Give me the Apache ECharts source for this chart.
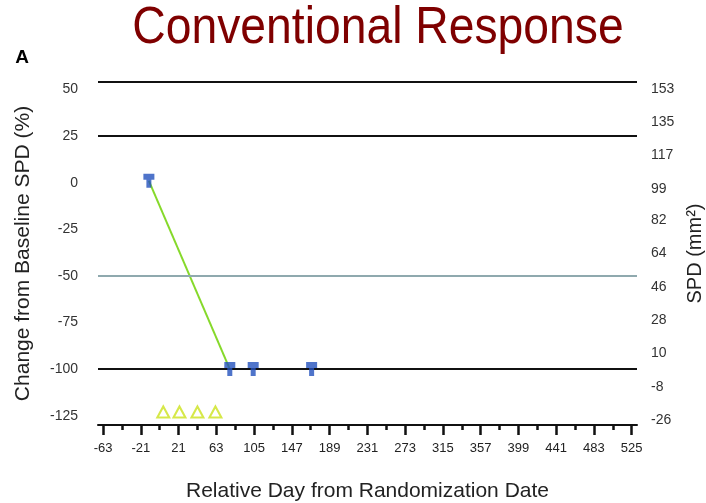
<!DOCTYPE html>
<html><head><meta charset="utf-8">
<script src="https://cdn.jsdelivr.net/npm/echarts@6/dist/echarts.min.js"></script>
<style>html,body{margin:0;padding:0;background:#fff;overflow:hidden}#c{width:706px;height:503px}</style>
</head><body><div id="c"></div>
<script>
const titleText = 'Conventional Response';
const panelLabel = 'A';
const xName = 'Relative Day from Randomization Date';
const yLeftName = 'Change from Baseline SPD (%)';
const yRightName = 'SPD (mm²)';
const xMajorTicks = [-63,-21,21,63,105,147,189,231,273,315,357,399,441,483,525];
const xMinorTicks = [-42,0,42,84,126,168,210,252,294,336,378,420,462,504];
const yLeftTicks = [50,25,0,-25,-50,-75,-100,-125];
const yRightTicks = [153,135,117,99,82,64,46,28,10,-8,-26];
const assessDays = [-12,78,104,169];
const assessPct = [1,-100,-100,-100];
const doseDays = [4,22,42,62];
const dosePct = [-123,-123,-123,-123];
const frameTop = 54;
const refLines = [25,-50,-100];

const FONT = "'Liberation Sans', Arial, sans-serif";
const chart = echarts.init(document.getElementById('c'), null, {renderer:'canvas', width:706, height:503});
const tShape = 'path://M0,0 L11,0 L11,6 L8,6 L8,14 L3,14 L3,6 L0,6 Z';

const refColors = ['#111111','#8fa9ae','#111111'];
const markData = [{yAxis: frameTop, lineStyle:{color:'#111', width:2, type:'solid'}}]
  .concat(refLines.map((v,i)=>({yAxis:v, lineStyle:{color:refColors[i], width:2, type:'solid'}})));

chart.setOption({
  animation:false,
  backgroundColor:'#fff',
  graphic:[
    {type:'text', x:378, y:29, scaleX:0.89, style:{text:titleText, fill:'#7f0000', font:"52px 'Liberation Sans', Arial", textAlign:'center', textVerticalAlign:'middle'}},
    {type:'text', x:22, y:58, style:{text:panelLabel, fill:'#000', font:"bold 19px "+FONT, textAlign:'center', textVerticalAlign:'middle'}}
  ],
  grid:{left:98, right:69, top:82, bottom:78, containLabel:false, outerBoundsMode:'none'},
  xAxis:[
    {type:'value', min:-68.6, max:530.9, position:'bottom',
     name:xName, nameLocation:'middle', nameGap:56,
     nameTextStyle:{fontFamily:FONT, fontSize:21, color:'#222'},
     axisLine:{onZero:false, lineStyle:{color:'#111', width:2}},
     axisTick:{customValues:xMajorTicks, length:10, lineStyle:{color:'#111', width:2.5}},
     axisLabel:{customValues:xMajorTicks, margin:17, fontFamily:FONT, fontSize:13, color:'#222'},
     splitLine:{show:false}},
    {type:'value', min:-68.6, max:530.9, position:'bottom',
     axisLine:{show:false, onZero:false},
     axisTick:{customValues:xMinorTicks, length:5, lineStyle:{color:'#111', width:2.5}},
     axisLabel:{show:false},
     splitLine:{show:false}}
  ],
  yAxis:[
    {type:'value', min:-130, max:frameTop, position:'left',
     name:yLeftName, nameLocation:'middle', nameGap:64,
     nameTextStyle:{fontFamily:FONT, fontSize:21, color:'#222'},
     axisLine:{show:false}, axisTick:{show:false}, splitLine:{show:false},
     axisLabel:{customValues:yLeftTicks, margin:20, fontFamily:FONT, fontSize:14, color:'#333'}},
    {type:'value', min:-28.7, max:156.8, position:'right',
     name:yRightName, nameLocation:'middle', nameGap:46,
     nameTextStyle:{fontFamily:FONT, fontSize:20, color:'#222'},
     axisLine:{show:false}, axisTick:{show:false}, splitLine:{show:false},
     axisLabel:{customValues:yRightTicks, margin:14, fontFamily:FONT, fontSize:14, color:'#333'}}
  ],
  series:[
    {type:'line', xAxisIndex:0, yAxisIndex:0, z:3,
     data:assessDays.slice(0,2).map((d,i)=>[d, assessPct[i]]),
     symbol:'none', lineStyle:{color:'#86d92b', width:2},
     markLine:{silent:true, symbol:['none','none'], label:{show:false}, data:markData}},
    {type:'scatter', xAxisIndex:0, yAxisIndex:0, z:5,
     data:assessDays.map((d,i)=>[d, assessPct[i]]),
     symbol:tShape, symbolSize:[11,14], itemStyle:{color:'#2351bd'}},
    {type:'scatter', xAxisIndex:0, yAxisIndex:0, z:5,
     data:doseDays.map((d,i)=>[d, dosePct[i]]),
     symbol:'triangle', symbolSize:[12,11],
     itemStyle:{color:'rgba(255,255,255,0)', borderColor:'#cce21c', borderWidth:2}}
  ]
});
</script></body></html>
